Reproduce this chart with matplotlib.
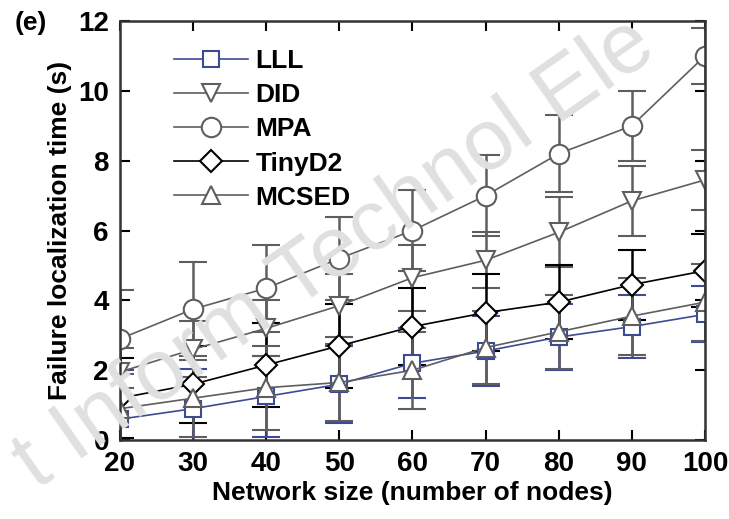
import matplotlib
matplotlib.use('Agg')
import matplotlib.pyplot as plt

plt.rcParams['font.family'] = ['Liberation Sans', 'DejaVu Sans']
plt.rcParams['font.weight'] = 'bold'

nodes = [20, 30, 40, 50, 60, 70, 80, 90, 100]
xticks = [20, 30, 40, 50, 60, 70, 80, 90, 100]
yticks = [0, 2, 4, 6, 8, 10, 12]

LLL = [0.6, 0.9, 1.25, 1.6, 2.2, 2.55, 2.95, 3.25, 3.6]
LLL_err = [1.4, 1.15, 1.15, 1.1, 1.0, 1.0, 0.95, 0.9, 0.8]
DID = [1.95, 2.6, 3.2, 3.85, 4.65, 5.15, 5.95, 6.85, 7.45]
DID_err = [0.7, 0.8, 0.8, 0.9, 0.95, 0.8, 1.0, 1.0, 0.85]
MPA = [2.9, 3.75, 4.35, 5.2, 6.0, 7.0, 8.2, 9.0, 11.0]
MPA_err = [1.4, 1.35, 1.25, 1.2, 1.15, 1.15, 1.1, 1.0, 0.8]
TinyD2 = [1.2, 1.6, 2.15, 2.7, 3.25, 3.65, 3.95, 4.45, 4.85]
TinyD2_err = [1.15, 1.1, 1.2, 1.2, 1.1, 1.1, 1.05, 1.0, 1.05]
MCSED = [0.9, 1.2, 1.5, 1.65, 2.0, 2.65, 3.1, 3.55, 3.95]
MCSED_err = [1.0, 1.1, 1.2, 1.1, 1.1, 1.05, 1.05, 1.1, 1.1]

blue = '#3d4b94'
grey = '#5e5e5e'

fig = plt.figure(figsize=(7.29, 5.19), dpi=100)
ax = fig.add_axes([0.1646, 0.152, 0.8024, 0.8075])

# faint watermark behind the plot
fig.text(0.46, 0.51, 't Inform Technol Ele', fontsize=62, color='#e0e0e0',
         rotation=35, ha='center', va='center', fontweight='normal', zorder=0)
ax.patch.set_alpha(0)

series = [
    ('LLL', LLL, LLL_err, 's', blue, 12),
    ('DID', DID, DID_err, 'v', grey, 13),
    ('MPA', MPA, MPA_err, 'o', grey, 14),
    ('TinyD2', TinyD2, TinyD2_err, 'D', 'black', 11),
    ('MCSED', MCSED, MCSED_err, '^', grey, 13),
]
handles = []
for name, vals, err, mk, col, ms in series:
    c = ax.errorbar(nodes, vals, yerr=err, color=col, lw=1.2, elinewidth=1.8,
                    capsize=10, capthick=1.8, marker=mk, ms=ms, mfc='white',
                    mec=col, mew=1.5, label=name)
    handles.append(c[0])

ax.set_xlim(20, 100)
ax.set_ylim(0, 12)
ax.set_xticks(xticks)
ax.set_yticks(yticks)
ax.tick_params(direction='in', length=7, width=1.5, labelsize=20,
               top=True, right=True, pad=8)
for s in ax.spines.values():
    s.set_linewidth(1.8)
    s.set_color('#333333')

ax.set_xlabel('Network size (number of nodes)', fontsize=19, fontweight='bold', labelpad=3)
ax.set_ylabel('Failure localization time (s)', fontsize=19, fontweight='bold', labelpad=4)

leg = ax.legend(handles=handles, labels=[s[0] for s in series], loc='upper left',
                bbox_to_anchor=(0.065, 0.97), frameon=False,
                fontsize=19, handlelength=2.8, handletextpad=0.3,
                labelspacing=0.38, borderaxespad=0.2)
for t in leg.get_texts():
    t.set_fontweight('bold')

fig.text(0.02, 0.955, '(e)', fontsize=19, fontweight='bold', va='center')

fig.savefig('out.png', dpi=100)
